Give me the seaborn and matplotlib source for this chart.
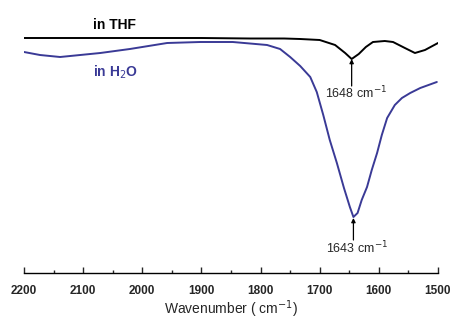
import numpy as np
import pandas as pd
import matplotlib
matplotlib.use("Agg")
import matplotlib.pyplot as plt
import seaborn as sns

# wavenumbers (cm-1) and relative transmittance
thf_wn = np.array([2200, 2100, 1987, 1900, 1818, 1760, 1733, 1700, 1674, 1657, 1646,
                   1634, 1622, 1610, 1590, 1576, 1556, 1539, 1522, 1500])
thf_t = np.array([235, 235, 235, 235, 234.5, 234.5, 234, 233, 228, 220, 214,
                  219, 226, 231, 232, 231, 225, 220, 223, 230])

h2o_wn = np.array([2200, 2173, 2139, 2071, 2021, 1958, 1902, 1847, 1789, 1767, 1750,
                   1733, 1716, 1705, 1694, 1683, 1671, 1659, 1649, 1643, 1636, 1629,
                   1620, 1612, 1603, 1595, 1586, 1573, 1561, 1547, 1530, 1502])
h2o_t = np.array([221, 218, 216, 220, 224, 230, 231, 231, 228, 224, 216,
                  207, 196, 181, 158, 133, 110, 85, 66, 56, 60, 73,
                  86, 103, 120, 138, 155, 168, 175, 180, 185, 191])

sns.set_style("white")
plt.rcParams["font.family"] = ["Liberation Sans", "DejaVu Sans"]

fig = plt.figure(figsize=(4.52, 3.28), dpi=100)
ax = fig.add_axes([24 / 452, 55 / 328, 414 / 452, 263 / 328])

df_thf = pd.DataFrame({"wn": thf_wn, "t": thf_t})
df_h2o = pd.DataFrame({"wn": h2o_wn, "t": h2o_t})
sns.lineplot(data=df_thf, x="wn", y="t", ax=ax, color="black", lw=1.4, sort=False)
sns.lineplot(data=df_h2o, x="wn", y="t", ax=ax, color="#3a3a96", lw=1.4, sort=False)

ax.set_xlim(2200, 1500)
ax.set_ylim(0, 263)

for s in ["top", "left", "right"]:
    ax.spines[s].set_visible(False)
ax.spines["bottom"].set_color("black")
ax.spines["bottom"].set_linewidth(1.0)
ax.set_yticks([])
ax.set_xticks(np.arange(2200, 1499, -100))
ax.set_xticks(np.arange(2150, 1500, -100), minor=True)
ax.tick_params(axis="x", which="major", direction="in", length=4, width=1,
               labelsize=8.5, pad=9, bottom=True)
ax.tick_params(axis="x", which="minor", direction="in", length=2.5, width=1, bottom=True)
for lab in ax.get_xticklabels():
    lab.set_fontweight("bold")
ax.set_xlabel("Wavenumber ( cm$^{-1}$)", fontsize=10, labelpad=1)
ax.set_ylabel("")

ax.text(2084, 248, "in THF", fontsize=10, fontweight="bold", color="black",
        ha="left", va="center")
ax.text(2084, 201, "in H$_2$O", fontsize=10, fontweight="bold", color="#3a3a96",
        ha="left", va="center")

# peak markers: vertical arrows with labels below
arrow = dict(arrowstyle="-|>", color="black", lw=0.9, mutation_scale=6,
             shrinkA=0, shrinkB=0)
ax.annotate("", xy=(1646, 214), xytext=(1646, 187), arrowprops=arrow)
ax.text(1639, 180, "1648 cm$^{-1}$", fontsize=9, ha="center", va="center")
ax.annotate("", xy=(1643, 55), xytext=(1643, 33), arrowprops=arrow)
ax.text(1636, 25, "1643 cm$^{-1}$", fontsize=9, ha="center", va="center")

fig.savefig("out.png", dpi=100)
